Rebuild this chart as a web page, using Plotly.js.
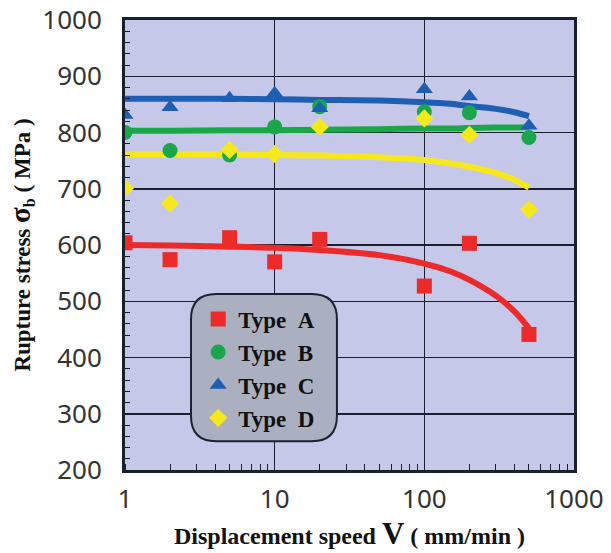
<!DOCTYPE html>
<html>
<head>
<meta charset="utf-8">
<script src="https://cdn.plot.ly/plotly-3.0.1.min.js"></script>
<style>html,body{margin:0;padding:0;background:#fff;}#chart{width:611px;height:553px;}</style>
</head>
<body>
<div id="chart"></div>
<script>
// Measured points
const speeds = [1, 2, 5, 10, 20, 100, 200, 500];
const typeA = [604, 574, 613, 570, 610, 527, 603, 441];
const typeB = [800, 768, 760, 810, 846, 837, 835, 791];
const typeC = [831, 845, 861, 870, 843, 877, 864, 812];
const typeD = [701, 674, 769, 762, 810, 825, 796, 663];

// Fitted curves
const fitSpeeds = [1, 2, 5, 10, 20, 50, 100, 150, 200, 300, 400, 500];
const fitA = [600, 599, 597, 595, 591, 582, 567, 553, 538, 510, 482, 452];
const fitB = [803, 803, 804, 804, 805, 806, 807, 807, 808, 809, 809, 810];
const fitC = [860, 860, 860, 859, 858, 857, 854, 851, 847, 842, 836, 829];
const fitD = [761, 761, 761, 760, 759, 756, 751, 745, 739, 728, 716, 702];

const names = ['Type\u00a0\u00a0A', 'Type\u00a0\u00a0B', 'Type\u00a0\u00a0C', 'Type\u00a0\u00a0D'];
const colors = ['#ec2a2a', '#1aa64a', '#1e5fb4', '#f7e81e'];
const symbols = ['square', 'circle', 'triangle-up', 'diamond'];
const sizes = [15, 15, 15, 14];

const pts = [typeA, typeB, typeC, typeD];
const fits = [fitA, fitB, fitC, fitD];

const traces = [];
fits.forEach((f, i) => {
  traces.push({
    x: fitSpeeds, y: f, mode: 'lines', type: 'scatter',
    line: {color: colors[i], width: 6, shape: 'spline', smoothing: 0.8},
    showlegend: false, hoverinfo: 'skip'
  });
});
pts.forEach((p, i) => {
  traces.push({
    x: speeds, y: p, mode: 'markers', type: 'scatter', name: names[i],
    legendgroup: 'g' + i,
    marker: {color: colors[i], symbol: symbols[i], size: sizes[i], line: {width: 0}}
  });
});

// Rounded legend box (paper coords)
const bx0 = 0.147, bx1 = 0.472, by0 = 0.064, by1 = 0.391, rx = 0.056, ry = 0.056;
const boxPath = `M ${bx0+rx},${by1} L ${bx1-rx},${by1} Q ${bx1},${by1} ${bx1},${by1-ry} ` +
  `L ${bx1},${by0+ry} Q ${bx1},${by0} ${bx1-rx},${by0} L ${bx0+rx},${by0} ` +
  `Q ${bx0},${by0} ${bx0},${by0+ry} L ${bx0},${by1-ry} Q ${bx0},${by1} ${bx0+rx},${by1} Z`;

const tickFont = {family: 'Noto Sans, sans-serif', size: 26, color: '#333'};
const serif = 'Liberation Serif, Times New Roman, serif';

const layout = {
  width: 611, height: 553,
  margin: {l: 125, r: 37, t: 20, b: 83},
  paper_bgcolor: '#ffffff',
  plot_bgcolor: '#c5c8e8',
  showlegend: true,
  legend: {
    x: 0.163, y: 0.383, xanchor: 'left', yanchor: 'top',
    bgcolor: 'rgba(0,0,0,0)', borderwidth: 0,
    font: {family: serif, size: 23, color: '#111', weight: 'bold'},
    tracegroupgap: 0, itemsizing: 'trace'
  },
  xaxis: {
    type: 'log', range: [0, 3], dtick: 1,
    tickvals: [1, 10, 100, 1000], ticktext: ['1', '10', '100', '1000'],
    showgrid: true, gridcolor: '#1a1f2e', gridwidth: 1.5,
    ticks: '', tickfont: tickFont, ticklabelstandoff: 4,
    showline: true, linecolor: '#17202c', linewidth: 3, mirror: true,
    zeroline: false,
    minor: {dtick: 'D1', ticks: 'inside', ticklen: 6, tickcolor: '#1a1f2e', tickwidth: 1, showgrid: false},
    title: {text: 'Displacement speed <span style="font-size:31px">V</span> ( mm/min )',
            font: {family: serif, size: 24, color: '#111', weight: 'bold'}, standoff: 8}
  },
  yaxis: {
    range: [200, 1000], dtick: 100,
    showgrid: true, gridcolor: '#1a1f2e', gridwidth: 1.5,
    ticks: '', tickfont: tickFont, ticklabelstandoff: 15,
    showline: true, linecolor: '#17202c', linewidth: 3, mirror: true,
    zeroline: false,
    minor: {dtick: 20, ticks: 'inside', ticklen: 5, tickcolor: '#1a1f2e', tickwidth: 1, showgrid: false},
    title: {text: 'Rupture stress <span style="font-size:29px">σ</span><sub>b</sub> ( MPa )',
            font: {family: serif, size: 23, color: '#111', weight: 'bold'}, standoff: 6}
  },
  shapes: [{
    type: 'path', xref: 'paper', yref: 'paper', path: boxPath,
    fillcolor: '#aab0bf', line: {color: '#1c2230', width: 2}, layer: 'above'
  }]
};

Plotly.newPlot('chart', traces, layout, {displayModeBar: false, staticPlot: true});
</script>
</body>
</html>
